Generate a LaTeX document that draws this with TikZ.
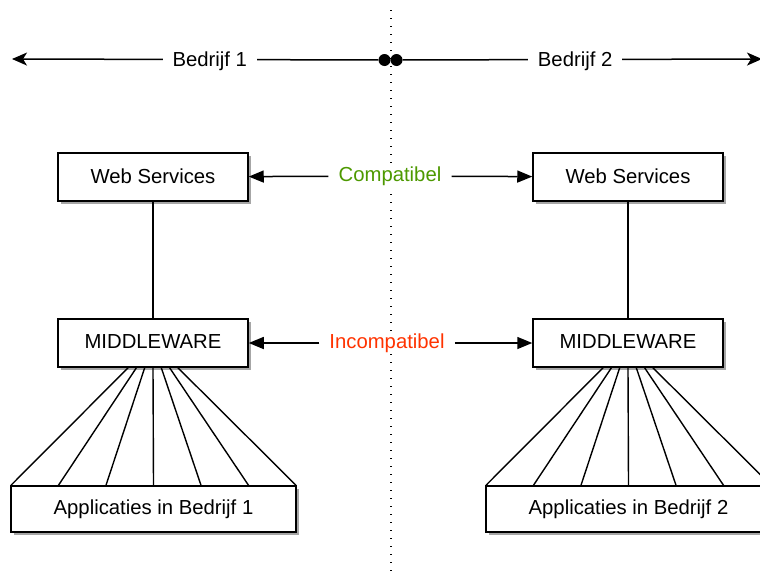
\documentclass[tikz,border=0pt]{standalone}
\usepackage{fontspec}
\setmainfont{Liberation Sans}
\usetikzlibrary{arrows.meta,shadows,calc}
\definecolor{okgreen}{HTML}{4D9900}
\definecolor{badred}{HTML}{FF3300}
\begin{document}
\begin{tikzpicture}[x=1pt,y=-1pt,
  every node/.style={font=\fontsize{20.3}{24}\selectfont},
  box/.style={draw, line width=1.5pt, fill=white, minimum width=190pt, minimum height=48pt,
    inner sep=0pt, drop shadow={shadow xshift=3pt, shadow yshift=-3pt, fill=black, opacity=0.35}},
  appbox/.style={box, minimum width=285pt, minimum height=46pt},
  link/.style={line width=1.4pt},
  pointer/.style={line width=1.5pt, -{Triangle[length=15pt,width=12pt]}},
  reach/.style={line width=1.5pt, -{Stealth[length=15pt,width=13pt,inset=4pt]}},
  tag/.style={fill=white, inner xsep=10pt, inner ysep=2pt},
  endpoint/.style={circle, fill=black, minimum size=12pt, inner sep=0pt}]
\useasboundingbox (0,0) rectangle (760,576);

% border between the two companies
\draw[line width=1.4pt, dash pattern=on 1.4pt off 6.6pt] (391,10) -- (391,576);

% company ranges along the top
\node[endpoint] (dotL) at (384.5,60) {};
\node[endpoint] (dotR) at (396.5,60) {};
\coordinate (farL) at (12,59);
\coordinate (farR) at (762,59);
\draw[reach] (dotL) -- node[tag, pos=0.46, yshift=-1.5pt] {Bedrijf 1} (farL);
\draw[reach] (dotR) -- node[tag, pos=0.48, yshift=-1.5pt] {Bedrijf 2} (farR);

% company 1 stack
\node[box] (webL) at (153,177) {\raisebox{2.5pt}{Web Services}};
\node[box] (mwL) at (153,343) {\raisebox{2.5pt}{MIDDLEWARE}};
\node[appbox] (appL) at (153.5,509) {\raisebox{2pt}{Applicaties in Bedrijf 1}};

% company 2 stack
\node[box] (webR) at (628,177) {\raisebox{2.5pt}{Web Services}};
\node[box] (mwR) at (628,343) {\raisebox{2.5pt}{MIDDLEWARE}};
\node[appbox] (appR) at (628.5,509) {\raisebox{2pt}{Applicaties in Bedrijf 2}};

\draw[link] (webL) -- (mwL);
\draw[link] (webR) -- (mwR);

% middleware fans out to the applications
\foreach \m/\a in {mwL/appL, mwR/appR}{
  \foreach \i in {-3,...,3}{
    \draw[link] ([xshift=\i*8.3pt]\m.south) -- ([xshift=\i*47.5pt]\a.north);
  }
}

% compatibility between the layers
\node[tag, text=okgreen] (compat) at (390,176) {\raisebox{2pt}{Compatibel}};
\draw[pointer] (compat) -- (webL);
\draw[pointer] (compat) -- (webR);

\node[tag, text=badred] (incompat) at (387,343) {\raisebox{2pt}{Incompatibel}};
\draw[pointer] (incompat) -- (mwL);
\draw[pointer] (incompat) -- (mwR);
\end{tikzpicture}
\end{document}
